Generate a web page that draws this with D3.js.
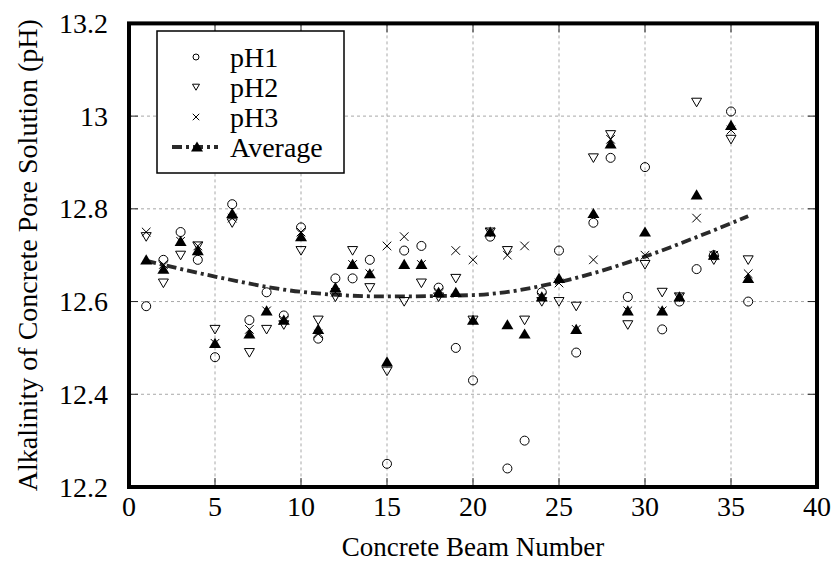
<!DOCTYPE html>
<html>
<head>
<meta charset="utf-8">
<script src="https://cdn.jsdelivr.net/npm/d3@7"></script>
<style>
  body { margin: 0; background: #fff; }
  svg text { font-family: "Liberation Serif", "Times New Roman", serif; fill: #000; }
</style>
</head>
<body>
<div id="chart"></div>
<script>
// beam numbers and the three pH readings for each beam
const beams = [1,2,3,4,5,6,7,8,9,10,11,12,13,14,15,16,17,18,19,20,21,22,23,24,25,26,27,28,29,30,31,32,33,34,35,36];
const pH1 = [12.59,12.69,12.75,12.69,12.48,12.81,12.56,12.62,12.57,12.76,12.52,12.65,12.65,12.69,12.25,12.71,12.72,12.63,12.50,12.43,12.74,12.24,12.30,12.62,12.71,12.49,12.77,12.91,12.61,12.89,12.54,12.60,12.67,12.70,13.01,12.60];
const pH2 = [12.74,12.64,12.70,12.72,12.54,12.77,12.49,12.54,12.55,12.71,12.56,12.61,12.71,12.63,12.45,12.60,12.64,12.61,12.65,12.56,12.75,12.71,12.56,12.60,12.60,12.59,12.91,12.96,12.55,12.68,12.62,12.61,13.03,12.69,12.95,12.69];
const pH3 = [12.75,12.68,12.73,12.72,12.51,12.78,12.54,12.58,12.56,12.75,12.53,12.62,12.68,12.66,12.72,12.74,12.68,12.62,12.71,12.69,12.75,12.70,12.72,12.61,12.64,12.54,12.69,12.95,12.58,12.70,12.58,12.61,12.78,12.70,12.97,12.66];
const avgPH = [12.69,12.67,12.73,12.71,12.51,12.79,12.53,12.58,12.56,12.74,12.54,12.63,12.68,12.66,12.47,12.68,12.68,12.62,12.62,12.56,12.75,12.55,12.53,12.61,12.65,12.54,12.79,12.94,12.58,12.75,12.58,12.61,12.83,12.70,12.98,12.65];

// trend curve through the averages
const trendX = [1,5,10,15,20,25,30,33,36];
const trendY = [12.688,12.654,12.621,12.611,12.614,12.642,12.697,12.739,12.784];

const xTicks = [0,5,10,15,20,25,30,35,40];
const yTicks = [12.2,12.4,12.6,12.8,13.0,13.2];
const yTickLabels = ["12.2","12.4","12.6","12.8","13","13.2"];

const legendLabels = ["pH1","pH2","pH3","Average"];

function init() {
  const w = 836, h = 562;
  const left = 129, right = 817, top = 23.4, bottom = 487;
  const fs = "28px";

  const svg = d3.select("#chart").append("svg")
    .attr("width", w).attr("height", h);

  const x = d3.scaleLinear().domain([0, 40]).range([left, right]);
  const y = d3.scaleLinear().domain([12.2, 13.2]).range([bottom, top]);

  // grid lines
  svg.append("g").selectAll("line")
    .data(xTicks.slice(1, -1)).enter().append("line")
    .attr("x1", d => x(d)).attr("x2", d => x(d))
    .attr("y1", top).attr("y2", bottom)
    .attr("stroke", "#a8a8a8").attr("stroke-width", 1)
    .attr("stroke-dasharray", "3,3");
  svg.append("g").selectAll("line")
    .data(yTicks.slice(1, -1)).enter().append("line")
    .attr("x1", left).attr("x2", right)
    .attr("y1", d => y(d)).attr("y2", d => y(d))
    .attr("stroke", "#a8a8a8").attr("stroke-width", 1)
    .attr("stroke-dasharray", "3,3");

  // inward ticks on all four sides
  const tk = 9;
  const ticks = svg.append("g").attr("stroke", "#222").attr("stroke-width", 1);
  xTicks.slice(1, -1).forEach(d => {
    ticks.append("line").attr("x1", x(d)).attr("x2", x(d)).attr("y1", bottom).attr("y2", bottom - tk);
    ticks.append("line").attr("x1", x(d)).attr("x2", x(d)).attr("y1", top).attr("y2", top + tk);
  });
  yTicks.slice(1, -1).forEach(d => {
    ticks.append("line").attr("x1", left).attr("x2", left + tk).attr("y1", y(d)).attr("y2", y(d));
    ticks.append("line").attr("x1", right).attr("x2", right - tk).attr("y1", y(d)).attr("y2", y(d));
  });

  // tick labels
  svg.append("g").selectAll("text")
    .data(xTicks).enter().append("text")
    .attr("x", d => x(d)).attr("y", 516)
    .attr("text-anchor", "middle").attr("font-size", fs)
    .text(d => d);
  svg.append("g").selectAll("text")
    .data(yTicks).enter().append("text")
    .attr("x", 108).attr("y", d => y(d) + 9.5)
    .attr("text-anchor", "end").attr("font-size", fs)
    .text((d, i) => yTickLabels[i]);

  // axis titles
  svg.append("text")
    .attr("x", (left + right) / 2).attr("y", 556)
    .attr("text-anchor", "middle").attr("font-size", "27px")
    .text("Concrete Beam Number");
  svg.append("text")
    .attr("transform", "translate(37," + (top + bottom) / 2 + ") rotate(-90)")
    .attr("text-anchor", "middle").attr("font-size", fs)
    .text("Alkalinity of Concrete Pore Solution (pH)");

  // marker shapes
  const downTri = s => `M${-5*s},${-4*s}L${5*s},${-4*s}L0,${4.6*s}Z`;
  const upTri = s => `M${-6*s},${4.6*s}L${6*s},${4.6*s}L0,${-5.6*s}Z`;
  const cross = s => `M${-4.3*s},${-4.3*s}L${4.3*s},${4.3*s}M${-4.3*s},${4.3*s}L${4.3*s},${-4.3*s}`;

  // trend curve
  const line = d3.line()
    .x(d => x(d[0])).y(d => y(d[1]))
    .curve(d3.curveMonotoneX);
  svg.append("path")
    .datum(trendX.map((d, i) => [d, trendY[i]]))
    .attr("d", line)
    .attr("fill", "none").attr("stroke", "#2a2a2a")
    .attr("stroke-width", 3.8).attr("stroke-dasharray", "10,4,3,4");

  // data points
  svg.append("g").selectAll("circle")
    .data(beams).enter().append("circle")
    .attr("cx", d => x(d)).attr("cy", (d, i) => y(pH1[i])).attr("r", 4.5)
    .attr("fill", "none").attr("stroke", "#000").attr("stroke-width", 1);
  svg.append("g").selectAll("path")
    .data(beams).enter().append("path")
    .attr("transform", (d, i) => `translate(${x(d)},${y(pH2[i])})`)
    .attr("d", downTri(1))
    .attr("fill", "none").attr("stroke", "#000").attr("stroke-width", 1);
  svg.append("g").selectAll("path")
    .data(beams).enter().append("path")
    .attr("transform", (d, i) => `translate(${x(d)},${y(pH3[i])})`)
    .attr("d", cross(1))
    .attr("fill", "none").attr("stroke", "#000").attr("stroke-width", 1);
  svg.append("g").selectAll("path")
    .data(beams).enter().append("path")
    .attr("transform", (d, i) => `translate(${x(d)},${y(avgPH[i])})`)
    .attr("d", upTri(1))
    .attr("fill", "#000");

  // legend
  const lg = svg.append("g");
  lg.append("rect")
    .attr("x", 157).attr("y", 31).attr("width", 187).attr("height", 142)
    .attr("fill", "#fff").attr("stroke", "#000").attr("stroke-width", 1.5);
  const rowY = [57, 87, 117, 147];
  lg.selectAll("text").data(legendLabels).enter().append("text")
    .attr("x", 230).attr("y", (d, i) => rowY[i] + 9.5)
    .attr("font-size", fs)
    .text(d => d);
  lg.append("circle").attr("cx", 196).attr("cy", rowY[0]).attr("r", 3)
    .attr("fill", "none").attr("stroke", "#000");
  lg.append("path").attr("transform", `translate(196,${rowY[1]})`).attr("d", downTri(0.7))
    .attr("fill", "none").attr("stroke", "#000");
  lg.append("path").attr("transform", `translate(196,${rowY[2]})`).attr("d", cross(0.75))
    .attr("fill", "none").attr("stroke", "#000");
  lg.append("line").attr("x1", 172).attr("x2", 218).attr("y1", rowY[3]).attr("y2", rowY[3])
    .attr("stroke", "#2a2a2a").attr("stroke-width", 3.8).attr("stroke-dasharray", "10,4,3,4");
  lg.append("path").attr("transform", `translate(197,${rowY[3]})`).attr("d", upTri(1))
    .attr("fill", "#000");

  // frame
  svg.append("rect")
    .attr("x", left).attr("y", top).attr("width", right - left).attr("height", bottom - top)
    .attr("fill", "none").attr("stroke", "#000").attr("stroke-width", 4);
}
window.addEventListener("load", init);
</script>
</body>
</html>
